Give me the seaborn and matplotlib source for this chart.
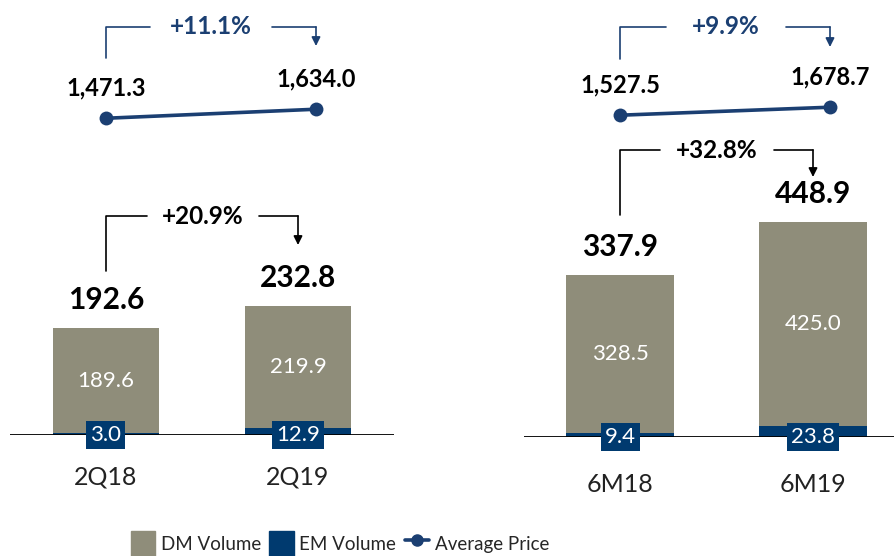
"""Volume and average price: quarter and half-year comparison."""

import matplotlib.pyplot as plt
import numpy as np
import pandas as pd
import seaborn as sns
from matplotlib.lines import Line2D
from matplotlib.patches import Patch

W, H = 895, 556

DM_GREY = "#8F8D7A"
EM_NAVY = "#003A6F"
LINE_NAVY = "#1B3F72"

quarter_periods = ["2Q18", "2Q19"]
quarter_dm = [189.6, 219.9]
quarter_em = [3.0, 12.9]
quarter_total = [192.6, 232.8]
quarter_price = [1471.3, 1634.0]
quarter_price_growth = "+11.1%"
quarter_volume_growth = "+20.9%"

half_periods = ["6M18", "6M19"]
half_dm = [328.5, 425.0]
half_em = [9.4, 23.8]
half_total = [337.9, 448.9]
half_price = [1527.5, 1678.7]
half_price_growth = "+9.9%"
half_volume_growth = "+32.8%"

sns.set_theme(style="white")
plt.rcParams["font.family"] = ["Lato", "DejaVu Sans"]


def px_axes(fig, x, y_bottom, width, height):
    """Add axes placed in pixel coords (origin top-left)."""
    return fig.add_axes([x / W, 1 - y_bottom / H, width / W, height / H])


def draw_bars(ax, periods, dm, em, total, ymax, cat_offset):
    df = pd.DataFrame({"period": periods, "dm": dm, "em": em, "total": total})
    sns.barplot(data=df, x="period", y="total", color=DM_GREY, saturation=1,
                width=0.557, linewidth=0, ax=ax)
    sns.barplot(data=df, x="period", y="em", color=EM_NAVY, saturation=1,
                width=0.557, linewidth=0, ax=ax)
    ax.axhline(0, color="black", lw=1.3)
    ax.set_xlim(-0.5, 1.5)
    ax.set_ylim(0, ymax)
    ax.set(xticks=[], yticks=[], xlabel="", ylabel="")
    sns.despine(ax=ax, left=True, bottom=True)
    ax.patch.set_alpha(0)
    for i, row in df.iterrows():
        ax.annotate(f"{row.total:.1f}", (i, row.total), xytext=(0, 28),
                    textcoords="offset pixels", ha="center", va="center",
                    fontsize=21.5, fontweight="bold", color="black",
                    annotation_clip=False)
        ax.text(i, row.em + row.dm / 2, f"{row.dm:.1f}", ha="center",
                va="center", fontsize=16, color="white")
        ax.text(i, 0, f"{row.em:.1f}", ha="center", va="center", fontsize=16,
                color="white",
                bbox=dict(boxstyle="square,pad=0.18", fc=EM_NAVY, ec="none"))
        ax.annotate(row.period, (i, 0), xytext=(0, -cat_offset),
                    textcoords="offset pixels", ha="center", va="center",
                    fontsize=18, color="#222222", annotation_clip=False)


def draw_price(ax, periods, price, ylim):
    df = pd.DataFrame({"pos": np.arange(len(periods)), "price": price})
    sns.lineplot(data=df, x="pos", y="price", color=LINE_NAVY, lw=2.6,
                 marker="o", markersize=10, markeredgewidth=0, ax=ax)
    ax.set_xlim(-0.5, 1.5)
    ax.set_ylim(*ylim)
    ax.set_axis_off()
    for _, row in df.iterrows():
        ax.annotate(f"{row.price:,.1f}", (row.pos, row.price), xytext=(0, 30),
                    textcoords="offset pixels", ha="center", va="center",
                    fontsize=17, fontweight="bold", color="black",
                    annotation_clip=False)


def bracket(ax, x0, x1, y_from, y_top, y_to, xtext, half_gap, text, color):
    """Elbow connector with a label in its gap and an arrow at the end."""
    ax.plot([x0, x0, xtext - half_gap], [y_from, y_top, y_top], color=color, lw=1.2)
    ax.plot([xtext + half_gap, x1], [y_top, y_top], color=color, lw=1.2)
    ax.annotate("", xy=(x1, y_to), xytext=(x1, y_top),
                arrowprops=dict(arrowstyle="-|>", color=color, lw=1.2,
                                mutation_scale=13, shrinkA=0, shrinkB=0))
    ax.text(xtext, y_top, text, ha="center", va="center", fontsize=17.5,
            fontweight="bold", color=color)


fig = plt.figure(figsize=(W / 100, H / 100), dpi=100)

ax_q = px_axes(fig, 10, 435, 384, 250)
draw_bars(ax_q, quarter_periods, quarter_dm, quarter_em, quarter_total,
          250 / 0.555, 42)
ax_h = px_axes(fig, 523.5, 437, 386, 250)
draw_bars(ax_h, half_periods, half_dm, half_em, half_total, 250 / 0.478, 48)

ax_qp = px_axes(fig, 1, 150, 420, 100)
draw_price(ax_qp, quarter_periods, quarter_price, (900, 2700))
ax_hp = px_axes(fig, 515, 150, 420, 100)
draw_price(ax_hp, half_periods, half_price, (870, 2760))

overlay = fig.add_axes([0, 0, 1, 1])
overlay.set_xlim(0, W)
overlay.set_ylim(H, 0)
overlay.set_axis_off()
overlay.patch.set_alpha(0)
bracket(overlay, 106, 316, 58, 27, 46, 211, 61, quarter_price_growth, LINE_NAVY)
bracket(overlay, 620, 830, 59, 27, 47, 726, 60, half_price_growth, LINE_NAVY)
bracket(overlay, 106, 298, 271, 216, 245, 203, 56, quarter_volume_growth, "black")
bracket(overlay, 620, 813, 215, 150, 177, 717, 57, half_volume_growth, "black")

handles = [
    Patch(color=DM_GREY),
    Patch(color=EM_NAVY),
    Line2D([], [], color=LINE_NAVY, lw=2.6, marker="o", markersize=8),
]
fig.legend(handles, ["DM Volume", "EM Volume", "Average Price"], loc="center",
           bbox_to_anchor=(340 / W, 1 - 544 / H), ncol=3, frameon=False,
           fontsize=13.5, handlelength=1.3, handleheight=1.8, handletextpad=0.3,
           columnspacing=0.45)

fig.savefig("out.png", dpi=100)
